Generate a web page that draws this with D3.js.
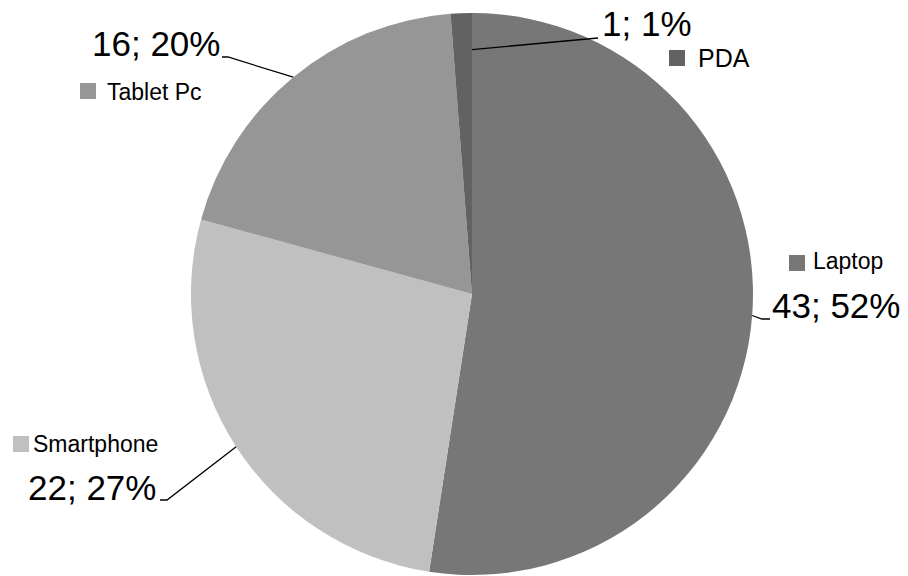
<!DOCTYPE html>
<html><head><meta charset="utf-8">
<script src="https://cdn.jsdelivr.net/npm/d3@7"></script>
<style>html,body{margin:0;padding:0;background:#fff;}svg{display:block;}</style>
</head><body>
<svg id="chart" width="908" height="576"></svg>
<script>
const categories = ["Laptop", "Smartphone", "Tablet Pc", "PDA"];
const values = [43, 22, 16, 1];
const percentLabels = ["52%", "27%", "20%", "1%"];
const colors = ["#777777", "#c0c0c0", "#969696", "#626262"];

// layout for labels (legend square, name text, value text, leader bend)
const layout = {
  "Laptop":     {sq:[789,255], name:[813,269], val:[772,318], valAnchor:"start", bend:[[762,319],[770,319]], startR:1.0},
  "Smartphone": {sq:[13,436],  name:[33,452],  val:[28,500],  valAnchor:"start", bend:[[167,500],[160,500]], startR:1.0},
  "Tablet Pc":  {sq:[80,83],   name:[107,100], val:[92,56],   valAnchor:"start", bend:[[228,57],[222,57]], startR:1.0},
  "PDA":        {sq:[669,50],  name:[698,67],  val:[602,36],  valAnchor:"start", bend:[[598,38]], startR:0.87, angleShift:0.5}
};

const svg = d3.select("#chart");
const cx = 472, cy = 294, r = 281;
const g = svg.append("g").attr("transform", `translate(${cx},${cy})`);

const pie = d3.pie().sort(null).value(d => d.v);
const data = categories.map((c, i) => ({c, v: values[i], p: percentLabels[i], col: colors[i]}));
const arcs = pie(data);
const arc = d3.arc().innerRadius(0).outerRadius(r);

g.selectAll("path.slice").data(arcs).enter().append("path")
  .attr("class", "slice")
  .attr("d", arc)
  .attr("fill", d => d.data.col);

const font = "'Liberation Sans', Arial, sans-serif";

arcs.forEach(a => {
  const L = layout[a.data.c];
  let ang = (a.startAngle + a.endAngle) / 2;
  if (L.angleShift) ang = ang + (a.endAngle - ang) * 2 * L.angleShift;
  const rr = r * L.startR;
  const sx = cx + rr * Math.sin(ang), sy = cy - rr * Math.cos(ang);
  const pts = [[sx, sy]].concat(L.bend);
  svg.append("path")
    .attr("d", d3.line()(pts))
    .attr("fill", "none").attr("stroke", "#000").attr("stroke-width", 1.3);
  svg.append("rect").attr("x", L.sq[0]).attr("y", L.sq[1]).attr("width", 16).attr("height", 16)
    .attr("fill", a.data.col);
  svg.append("text").attr("x", L.name[0]).attr("y", L.name[1])
    .attr("font-family", font).attr("font-size", a.data.c === "PDA" ? 25 : 23)
    .attr("fill", "#000").text(a.data.c);
  svg.append("text").attr("x", L.val[0]).attr("y", L.val[1])
    .attr("text-anchor", L.valAnchor)
    .attr("font-family", font).attr("font-size", 35)
    .attr("fill", "#000").text(a.data.v + "; " + a.data.p);
});
</script>
</body></html>
